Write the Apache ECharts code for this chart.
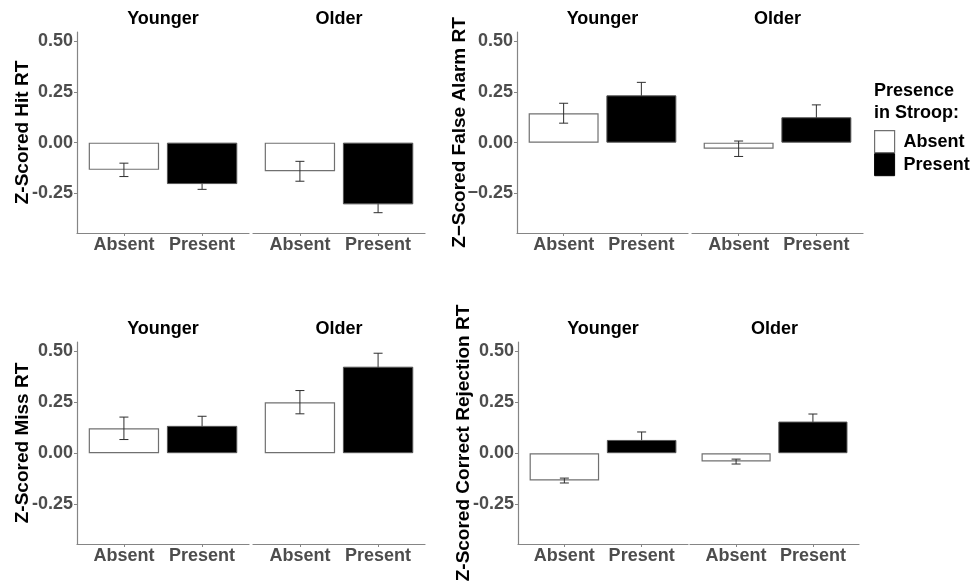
<!DOCTYPE html>
<html>
<head>
<meta charset="utf-8">
<script src="https://cdn.jsdelivr.net/npm/echarts@6/dist/echarts.min.js"></script>
<style>
html,body{margin:0;padding:0;background:#fff;}
#chart{width:973px;height:584px;}
</style>
</head>
<body>
<div id="chart"></div>
<script>
// ---- data (rows: Younger, Older; columns: Absent, Present) ----
const groups = ['Younger', 'Older'];
const conditions = ['Absent', 'Present'];
const yTicks = [-0.25, 0, 0.25, 0.5];

const hitMean  = [[-0.134, -0.204], [-0.141, -0.304]];
const hitSE    = [[0.033, 0.026], [0.049, 0.041]];
const faMean   = [[0.145, 0.233], [-0.030, 0.125]];
const faSE     = [[0.049, 0.064], [0.038, 0.061]];
const missMean = [[0.122, 0.134], [0.250, 0.424]];
const missSE   = [[0.055, 0.047], [0.057, 0.066]];
const crMean   = [[-0.134, 0.065], [-0.041, 0.155]];
const crSE     = [[0.012, 0.039], [0.012, 0.037]];

const panelTitles = ['Z-Scored Hit RT', 'Z\u2212Scored False Alarm RT', 'Z-Scored Miss RT', 'Z-Scored Correct Rejection RT'];
const useUnicodeMinus = [false, true, false, false];
const means = [hitMean, faMean, missMean, crMean];
const ses = [hitSE, faSE, missSE, crSE];

// ---- layout ----
const FONT = "'Liberation Sans', Arial, sans-serif";
const AXIS_COLOR = '#858585';
const LABEL_COLOR = '#4d4d4d';
const panelGrids = [
  [{left: 77, top: 32, width: 172, height: 201}, {left: 253, top: 32, width: 172, height: 201}],
  [{left: 517, top: 32, width: 171, height: 201}, {left: 692, top: 32, width: 171, height: 201}],
  [{left: 77, top: 342, width: 172, height: 202}, {left: 253, top: 342, width: 172, height: 202}],
  [{left: 518, top: 342, width: 170, height: 202}, {left: 690, top: 342, width: 169, height: 202}]
];
const nameGaps = [45, 48, 45, 45];
const YMIN = -0.445, YMAX = 0.545;

const grids = [], xAxes = [], yAxes = [], series = [], graphics = [];

function errorBarRenderer(params, api) {
  const x = api.value(0), mu = api.value(1), se = api.value(2);
  const hi = api.coord([x, mu + se]);
  const lo = api.coord([x, mu - se]);
  const cw = 4.5;
  const st = {stroke: '#2e2e2e', lineWidth: 1};
  return {
    type: 'group',
    children: [
      {type: 'line', shape: {x1: hi[0], y1: hi[1], x2: lo[0], y2: lo[1]}, style: st},
      {type: 'line', shape: {x1: hi[0] - cw, y1: hi[1], x2: hi[0] + cw, y2: hi[1]}, style: st},
      {type: 'line', shape: {x1: lo[0] - cw, y1: lo[1], x2: lo[0] + cw, y2: lo[1]}, style: st}
    ]
  };
}

panelGrids.forEach((pg, p) => {
  pg.forEach((g, f) => {
    const idx = grids.length;
    grids.push({left: g.left, top: g.top, width: g.width, height: g.height});
    xAxes.push({
      type: 'value', gridIndex: idx, min: 0.4, max: 2.6,
      splitLine: {show: false},
      axisLine: {show: true, onZero: false, lineStyle: {color: AXIS_COLOR, width: 1.2}},
      axisTick: {show: true, customValues: [1, 2], length: 3, lineStyle: {color: AXIS_COLOR}},
      axisLabel: {
        show: true, customValues: [1, 2], margin: 3,
        formatter: v => conditions[Math.round(v) - 1],
        fontFamily: FONT, fontSize: 18, fontWeight: 'bold', color: LABEL_COLOR
      }
    });
    const isLeft = f === 0;
    yAxes.push({
      type: 'value', gridIndex: idx, min: YMIN, max: YMAX,
      splitLine: {show: false},
      axisLine: {show: isLeft, onZero: false, lineStyle: {color: AXIS_COLOR, width: 1.2}},
      axisTick: {show: isLeft, customValues: yTicks, length: 3, lineStyle: {color: AXIS_COLOR}},
      axisLabel: {
        show: isLeft, customValues: yTicks, margin: 4,
        formatter: v => {
          let s = v.toFixed(2);
          if (useUnicodeMinus[p]) s = s.replace('-', '\u2212');
          return s;
        },
        fontFamily: FONT, fontSize: 18, fontWeight: 'bold', color: LABEL_COLOR
      },
      name: isLeft ? panelTitles[p] : '',
      nameLocation: 'middle', nameRotate: 90, nameGap: nameGaps[p],
      nameMoveOverlap: false,
      nameTextStyle: {fontFamily: FONT, fontSize: 19, fontWeight: 'bold', color: '#000'}
    });
    const bw = 0.9 * g.width / 2.2;
    const m = means[p][f], s = ses[p][f];
    series.push({
      type: 'bar', name: 'Absent', xAxisIndex: idx, yAxisIndex: idx,
      barWidth: bw, barGap: '-100%',
      itemStyle: {color: '#ffffff', borderColor: '#707070', borderWidth: 1.2},
      data: [[1, m[0]]], z: 2
    });
    series.push({
      type: 'bar', name: 'Present', xAxisIndex: idx, yAxisIndex: idx,
      barWidth: bw, barGap: '-100%',
      itemStyle: {color: '#000000', borderColor: '#555555', borderWidth: 1},
      data: [[2, m[1]]], z: 6
    });
    series.push({
      type: 'custom', name: 'errorbar', xAxisIndex: idx, yAxisIndex: idx, z: 4,
      data: [[1, m[0], s[0]], [2, m[1], s[1]]],
      renderItem: errorBarRenderer
    });
    graphics.push({
      type: 'text', z: 10,
      style: {
        text: groups[f], x: g.left + g.width / 2, y: g.top - 13,
        align: 'center', verticalAlign: 'middle',
        fontFamily: FONT, fontSize: 18, fontWeight: 'bold', fill: '#000'
      }
    });
  });
});

graphics.push({
  type: 'text', z: 10,
  style: {
    text: 'Presence\nin Stroop:', x: 874, y: 80,
    align: 'left', verticalAlign: 'top', lineHeight: 22,
    fontFamily: FONT, fontSize: 18, fontWeight: 'bold', fill: '#000'
  }
});

const chart = echarts.init(document.getElementById('chart'), null, {renderer: 'canvas'});
chart.setOption({
  animation: false,
  backgroundColor: '#ffffff',
  grid: grids,
  xAxis: xAxes,
  yAxis: yAxes,
  series: series,
  graphic: graphics,
  legend: {
    show: true, orient: 'vertical', left: 874, top: 130, padding: 0,
    itemGap: 0, itemWidth: 20, itemHeight: 22, icon: 'rect',
    data: [
      {name: 'Absent', itemStyle: {color: '#ffffff', borderColor: '#707070', borderWidth: 1.2}},
      {name: 'Present', itemStyle: {color: '#000000', borderColor: '#000000', borderWidth: 1}}
    ],
    textStyle: {fontFamily: FONT, fontSize: 18, fontWeight: 'bold', color: '#000', padding: [0, 0, 0, 4]}
  }
});
</script>
</body>
</html>
